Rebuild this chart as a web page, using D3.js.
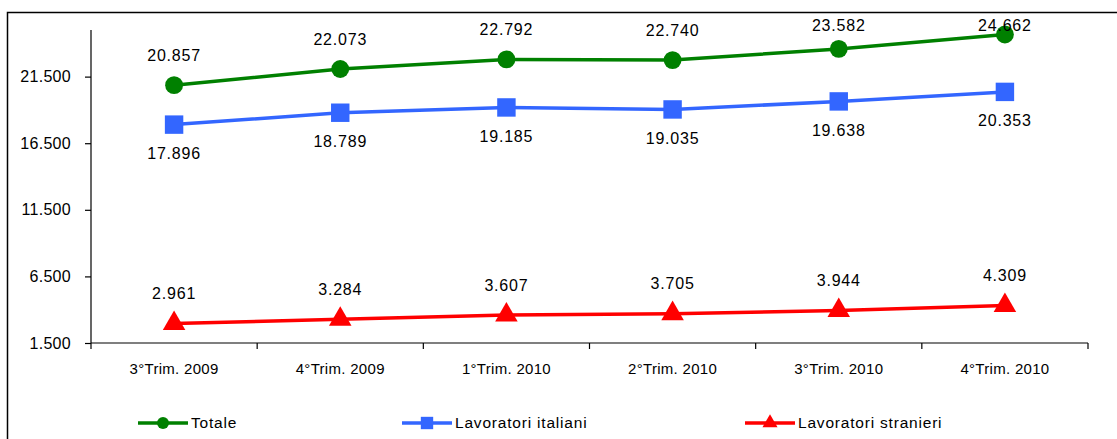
<!DOCTYPE html>
<html>
<head>
<meta charset="utf-8">
<script src="https://cdn.jsdelivr.net/npm/d3@7"></script>
<style>
  html, body { margin: 0; padding: 0; background: #fff; }
  svg { display: block; font-family: "Liberation Sans", Arial, sans-serif; }
</style>
</head>
<body>
<svg id="chart" width="1117" height="439"></svg>
<script>
// Quarterly worker counts
const categories = ["3°Trim. 2009", "4°Trim. 2009", "1°Trim. 2010", "2°Trim. 2010", "3°Trim. 2010", "4°Trim. 2010"];
const totale = [20857, 22073, 22792, 22740, 23582, 24662];
const italiani = [17896, 18789, 19185, 19035, 19638, 20353];
const stranieri = [2961, 3284, 3607, 3705, 3944, 4309];
const yTicks = [1500, 6500, 11500, 16500, 21500];
const seriesNames = ["Totale", "Lavoratori italiani", "Lavoratori stranieri"];

const svg = d3.select("#chart");
const fmt = d3.formatLocale({ decimal: ",", thousands: ".", grouping: [3] }).format(",d");

// outer frame
svg.append("rect")
  .attr("x", 7.5).attr("y", 12.5)
  .attr("width", 1200).attr("height", 500)
  .attr("fill", "none").attr("stroke", "#000").attr("stroke-width", 1.5);

const plot = { left: 91, right: 1088, top: 30, bottom: 343 };

const x = d3.scaleBand().domain(categories).range([plot.left, plot.right]);
const y = d3.scaleLinear().domain([1500, 25000]).range([plot.bottom, plot.top]);

// y axis
const yAxis = svg.append("g")
  .attr("transform", `translate(${plot.left},0)`)
  .call(d3.axisLeft(y).tickValues(yTicks).tickFormat(fmt).tickSize(6).tickPadding(14));
yAxis.select(".domain").attr("stroke", "#000").attr("stroke-width", 1.2).attr("d", `M0,${plot.top}V${plot.bottom}`);
yAxis.selectAll(".tick line").attr("stroke", "#000").attr("stroke-width", 1.2);
yAxis.selectAll("text").attr("font-size", 16).attr("fill", "#000").attr("letter-spacing", 0.3);

// x axis with boundary ticks between categories
const xAxis = svg.append("g").attr("transform", `translate(0,${plot.bottom})`);
xAxis.append("line")
  .attr("x1", plot.left).attr("x2", plot.right)
  .attr("stroke", "#000").attr("stroke-width", 1.2);
const bounds = categories.map(c => x(c)).concat([x(categories[categories.length - 1]) + x.bandwidth()]);
xAxis.selectAll("line.tk").data(bounds).enter().append("line")
  .attr("class", "tk")
  .attr("x1", d => d).attr("x2", d => d)
  .attr("y1", 0).attr("y2", 6)
  .attr("stroke", "#000").attr("stroke-width", 1.2);
xAxis.selectAll("text").data(categories).enter().append("text")
  .attr("x", d => x(d) + x.bandwidth() / 2)
  .attr("y", 31)
  .attr("text-anchor", "middle")
  .attr("font-size", 15)
  .attr("letter-spacing", 0.3)
  .attr("fill", "#000")
  .text(d => d);

const cx = (d, i) => x(categories[i]) + x.bandwidth() / 2;
const line = d3.line().x(cx).y(d => y(d));

const series = [
  { name: seriesNames[0], values: totale, color: "#008000", symbol: d3.symbolCircle, size: 250, labelDy: -30 },
  { name: seriesNames[1], values: italiani, color: "#3366FF", symbol: d3.symbolSquare, size: 340, labelDy: 29 },
  { name: seriesNames[2], values: stranieri, color: "#FF0000", symbol: d3.symbolTriangle, size: 220, labelDy: -30 }
];

series.forEach(s => {
  const g = svg.append("g");
  g.append("path")
    .attr("d", line(s.values))
    .attr("fill", "none")
    .attr("stroke", s.color)
    .attr("stroke-width", 3.5);
  g.selectAll("path.m").data(s.values).enter().append("path")
    .attr("class", "m")
    .attr("transform", (d, i) => `translate(${cx(d, i)},${y(d)})`)
    .attr("d", d3.symbol().type(s.symbol).size(s.size))
    .attr("fill", s.color);
  g.selectAll("text").data(s.values).enter().append("text")
    .attr("x", cx)
    .attr("y", d => Math.max(y(d) + s.labelDy, 25))
    .attr("dy", "0.35em")
    .attr("text-anchor", "middle")
    .attr("font-size", 16)
    .attr("letter-spacing", 0.8)
    .attr("fill", "#000")
    .text(d => fmt(d));
});

// legend
const legendX = [138, 402, 745];
const legend = svg.append("g").attr("transform", "translate(0,423)");
series.forEach((s, i) => {
  const lg = legend.append("g").attr("transform", `translate(${legendX[i]},0)`);
  lg.append("line").attr("x1", 0).attr("x2", 50).attr("stroke", s.color).attr("stroke-width", 3.5);
  lg.append("path")
    .attr("transform", "translate(25,0)")
    .attr("d", d3.symbol().type(s.symbol).size(s.size * 0.45))
    .attr("fill", s.color);
  lg.append("text")
    .attr("x", 53).attr("dy", "0.35em")
    .attr("font-size", 15.5)
    .attr("letter-spacing", 0.8)
    .attr("fill", "#000")
    .text(s.name);
});
</script>
</body>
</html>
